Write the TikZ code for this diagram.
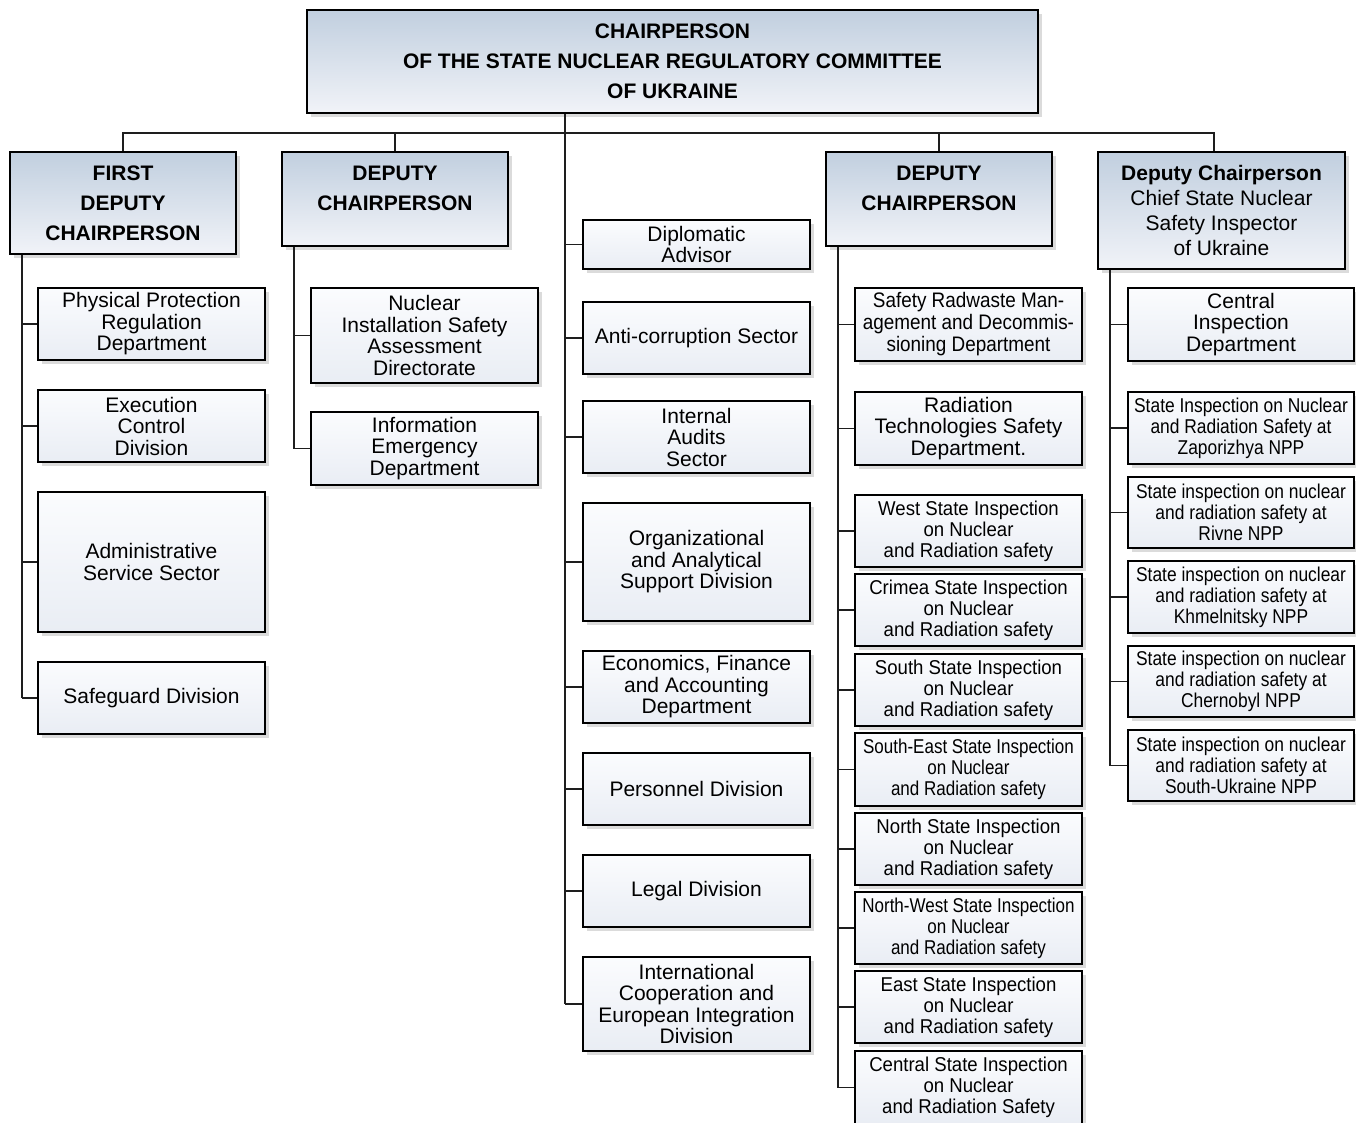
\documentclass[tikz,border=0pt]{standalone}
\usepackage{fontspec}
\setmainfont{Liberation Sans}
\newfontfamily\nfA[FakeStretch=0.93]{Liberation Sans}
\newfontfamily\nfB[FakeStretch=0.85]{Liberation Sans}
\newfontfamily\nfC[FakeStretch=0.87]{Liberation Sans}
\newfontfamily\nfD[FakeStretch=0.9]{Liberation Sans}
\usetikzlibrary{shadows}
\definecolor{hdtop}{RGB}{193,207,223}
\definecolor{hdbot}{RGB}{241,243,248}
\definecolor{bxtop}{RGB}{251,252,254}
\definecolor{bxbot}{RGB}{233,237,244}
\definecolor{linec}{RGB}{30,30,30}
\tikzset{
 base/.style={draw=black, line width=2.9pt, align=center, inner sep=0pt,
   drop shadow={opacity=0.28, shadow xshift=4pt, shadow yshift=-4pt}},
 head/.style={base, top color=hdtop, bottom color=hdbot, font=\fontsize{21}{30}\selectfont\bfseries},
 dchead/.style={base, top color=hdtop, bottom color=hdbot, font=\fontsize{21}{25}\selectfont},
 unit/.style={base, top color=bxtop, bottom color=bxbot, font=\fontsize{21}{21.5}\selectfont},
 unitA/.style={unit, font=\fontsize{20}{21}\nfA},
 unitB/.style={unit, font=\fontsize{20}{21}\nfB},
 unitC/.style={unit, font=\fontsize{20}{21}\nfC},
 unitD/.style={unit, font=\fontsize{21}{22}\nfD},
 conn/.style={draw=linec, line width=1.4pt},
}
\newcommand\ob[7]{\node[#1, minimum width={(#5-#3)*1pt}, minimum height={(#6-#4)*1pt}] (#2) at ({(#3+#5)/2},{(#4+#6)/2}) {#7};}
\begin{document}
\begin{tikzpicture}[x=1pt,y=-1pt]
\useasboundingbox[fill=white] (0,0) rectangle (1356,1122);
% trunk x positions
\coordinate (bus) at (0,133);
\coordinate (dcx) at (1214,0);
\coordinate (tL) at (22,0);
\coordinate (tM) at (294,0);
\coordinate (tC) at (565,0);
\coordinate (tR) at (838,0);
\coordinate (tD) at (1110,0);
% top
\ob{head}{top}{307}{10}{1038}{113}{CHAIRPERSON\\OF THE STATE NUCLEAR REGULATORY COMMITTEE\\OF UKRAINE}
% deputies
\ob{head}{fd}{10}{152}{236}{254}{FIRST\\DEPUTY\\CHAIRPERSON}
\ob{head}{d1}{282}{152}{508}{246}{DEPUTY\\CHAIRPERSON\\[-8pt]\mbox{}}
\ob{head}{d2}{826}{152}{1052}{246}{DEPUTY\\CHAIRPERSON\\[-8pt]\mbox{}}
\ob{dchead}{dc}{1098}{152}{1345}{269}{\textbf{Deputy Chairperson}\\Chief State Nuclear\\Safety Inspector\\of Ukraine}
% left column
\ob{unit}{pp}{38}{288}{265}{360}{Physical Protection\\Regulation\\Department}
\ob{unit}{ec}{38}{390}{265}{462}{Execution\\Control\\Division}
\ob{unit}{as}{38}{492}{265}{632}{Administrative\\Service Sector}
\ob{unit}{sg}{38}{662}{265}{734}{Safeguard Division}
% deputy 1 column
\ob{unit}{ni}{311}{288}{538}{383}{Nuclear\\Installation Safety\\Assessment\\Directorate}
\ob{unit}{ie}{311}{412}{538}{485}{Information\\Emergency\\Department}
% center column
\ob{unit}{da}{583}{220}{810}{269}{Diplomatic\\Advisor}
\ob{unit}{ac}{583}{302}{810}{374}{Anti-corruption Sector}
\ob{unit}{ia}{583}{401}{810}{473}{Internal\\Audits\\Sector}
\ob{unit}{oa}{583}{503}{810}{621}{Organizational\\and Analytical\\Support Division}
\ob{unit}{ef}{583}{651}{810}{723}{Economics, Finance\\and Accounting\\Department}
\ob{unit}{pd}{583}{753}{810}{825}{Personnel Division}
\ob{unit}{ld}{583}{855}{810}{927}{Legal Division}
\ob{unit}{ic}{583}{957}{810}{1051}{International\\Cooperation and\\European Integration\\Division}
% deputy 2 column
\ob{unitD}{sr}{855}{288}{1082}{361}{Safety Radwaste Man-\\agement and Decommis-\\sioning Department}
\ob{unit}{rt}{855}{392}{1082}{465}{Radiation\\Technologies Safety\\Department.}
\ob{unitA}{ws}{855}{495}{1082}{567}{West State Inspection\\on Nuclear\\and Radiation safety}
\ob{unitA}{cr}{855}{574}{1082}{646}{Crimea State Inspection\\on Nuclear\\and Radiation safety}
\ob{unitA}{so}{855}{654}{1082}{726}{South State Inspection\\on Nuclear\\and Radiation safety}
\ob{unitB}{se}{855}{733}{1082}{806}{South-East State Inspection\\on Nuclear\\and Radiation safety}
\ob{unitA}{no}{855}{813}{1082}{885}{North State Inspection\\on Nuclear\\and Radiation safety}
\ob{unitB}{nw}{855}{892}{1082}{964}{North-West State Inspection\\on Nuclear\\and Radiation safety}
\ob{unitA}{ea}{855}{971}{1082}{1043}{East State Inspection\\on Nuclear\\and Radiation safety}
\ob{unitA}{ce}{855}{1051}{1082}{1124}{Central State Inspection\\on Nuclear\\and Radiation Safety}
% deputy chairperson column
\ob{unit}{ci}{1128}{288}{1354}{361}{Central\\Inspection\\Department}
\ob{unitC}{zp}{1128}{392}{1354}{464}{State Inspection on Nuclear\\and Radiation Safety at\\Zaporizhya NPP}
\ob{unitC}{rv}{1128}{477}{1354}{548}{State inspection on nuclear\\and radiation safety at\\Rivne NPP}
\ob{unitC}{kh}{1128}{561}{1354}{633}{State inspection on nuclear\\and radiation safety at\\Khmelnitsky NPP}
\ob{unitC}{ch}{1128}{646}{1354}{717}{State inspection on nuclear\\and radiation safety at\\Chernobyl NPP}
\ob{unitC}{su}{1128}{730}{1354}{801}{State inspection on nuclear\\and radiation safety at\\South-Ukraine NPP}
% connectors
\draw[conn] (fd.north) |- (bus -| dcx) -- (dcx |- dc.north);
\draw[conn] (d1.north) -- (d1.north |- bus);
\draw[conn] (d2.north) -- (d2.north |- bus);
\draw[conn] (top.south -| tC) -- (tC |- ic.west);
\foreach \c in {da,ac,ia,oa,ef,pd,ld,ic} \draw[conn] (tC |- \c.west) -- (\c.west);
\draw[conn] (fd.south -| tL) -- (tL |- sg.west);
\foreach \c in {pp,ec,as,sg} \draw[conn] (tL |- \c.west) -- (\c.west);
\draw[conn] (d1.south -| tM) -- (tM |- ie.west);
\foreach \c in {ni,ie} \draw[conn] (tM |- \c.west) -- (\c.west);
\draw[conn] (d2.south -| tR) -- (tR |- ce.west);
\foreach \c in {sr,rt,ws,cr,so,se,no,nw,ea,ce} \draw[conn] (tR |- \c.west) -- (\c.west);
\draw[conn] (dc.south -| tD) -- (tD |- su.west);
\foreach \c in {ci,zp,rv,kh,ch,su} \draw[conn] (tD |- \c.west) -- (\c.west);
\end{tikzpicture}
\end{document}
